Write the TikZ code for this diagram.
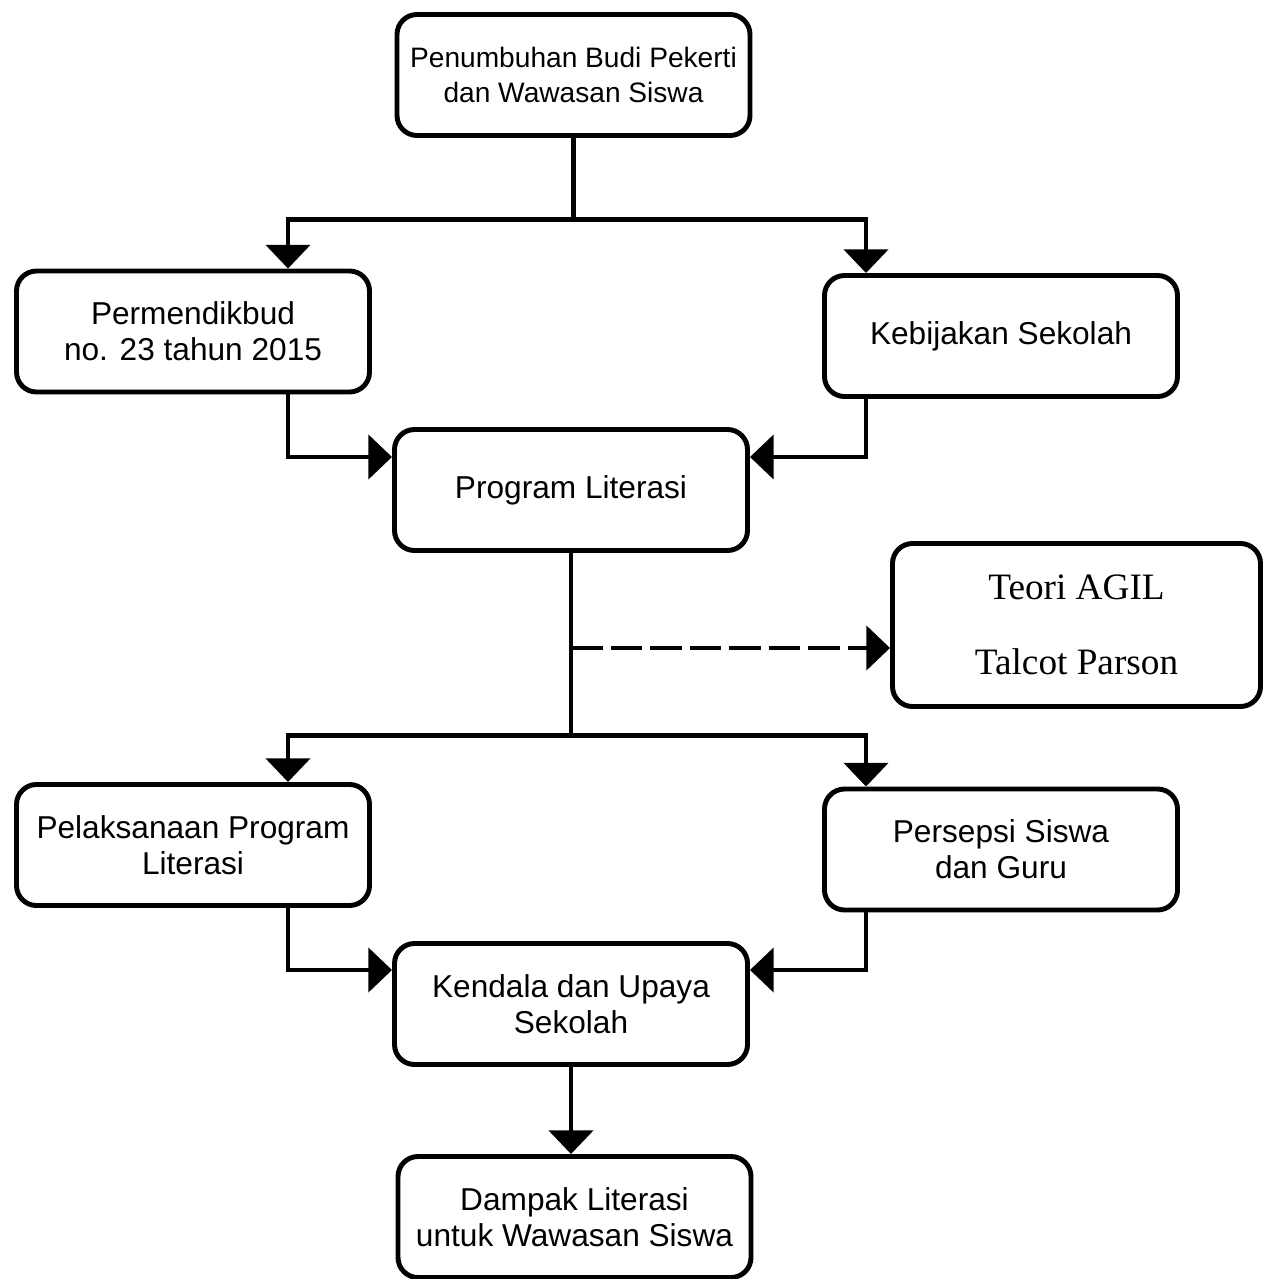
\documentclass[tikz,border=0pt]{standalone}
\usepackage{fontspec}
\setmainfont{Liberation Sans}
\newfontfamily\timesfont{Liberation Serif}
\usetikzlibrary{arrows.meta}

\begin{document}
\begin{tikzpicture}[line width=2.8pt,
  box/.style={draw, rounded corners=0.4cm, minimum width=7.06cm, minimum height=2.42cm, align=center, font=\fontsize{18}{20.5}\selectfont},
  arr/.style={-{Triangle[width=25pt,length=13.5pt]}},
  darr/.style={arr, dash pattern=on 18pt off 4.5pt}]
  \useasboundingbox (0,0) rectangle (25.38,-25.58);

  \node[box, font=\fontsize{16}{20}\selectfont] (budi) at (11.47,-1.50) {Penumbuhan Budi Pekerti\\dan Wawasan Siswa};
  \node[box] (permen) at (3.86,-6.63) {Permendikbud\\no. 23 tahun 2015};
  \node[box] (kebijakan) at (20.02,-6.72) {Kebijakan Sekolah};
  \node[box] (program) at (11.42,-9.80) {Program Literasi};
  \node[box, minimum width=7.36cm, minimum height=3.26cm, font=\timesfont\fontsize{21.2}{43}\selectfont] (agil) at (21.53,-12.50) {Teori AGIL\\Talcot Parson};
  \node[box] (pelaksanaan) at (3.86,-16.90) {Pelaksanaan Program\\Literasi};
  \node[box] (persepsi) at (20.02,-16.99) {Persepsi Siswa\\dan Guru};
  \node[box] (kendala) at (11.42,-20.08) {Kendala dan Upaya\\Sekolah};
  \node[box] (dampak) at (11.49,-24.34) {Dampak Literasi\\untuk Wawasan Siswa};

  % top split
  \draw (budi.south) -- ++(0,-1.63) coordinate (split1);
  \draw[arr] (split1) -| ([xshift=1.9cm]permen.north);
  \draw[arr] (split1) -| ([xshift=-2.7cm]kebijakan.north);
  \draw[arr] ([xshift=1.9cm]permen.south) |- ([yshift=0.66cm]program.west);
  \draw[arr] ([xshift=-2.7cm]kebijakan.south) |- ([yshift=0.66cm]program.east);

  % middle split
  \draw (program.south) -- ++(0,-3.65) coordinate (split2);
  \coordinate (agilin) at ([yshift=-0.46cm]agil.west);
  \draw[darr] (program.south |- agilin) -- (agilin);
  \draw[arr] (split2) -| ([xshift=1.9cm]pelaksanaan.north);
  \draw[arr] (split2) -| ([xshift=-2.7cm]persepsi.north);
  \draw[arr] ([xshift=1.9cm]pelaksanaan.south) |- ([yshift=0.68cm]kendala.west);
  \draw[arr] ([xshift=-2.7cm]persepsi.south) |- ([yshift=0.68cm]kendala.east);
  \draw[arr] (kendala.south) -- (kendala.south |- dampak.north);
\end{tikzpicture}
\end{document}
